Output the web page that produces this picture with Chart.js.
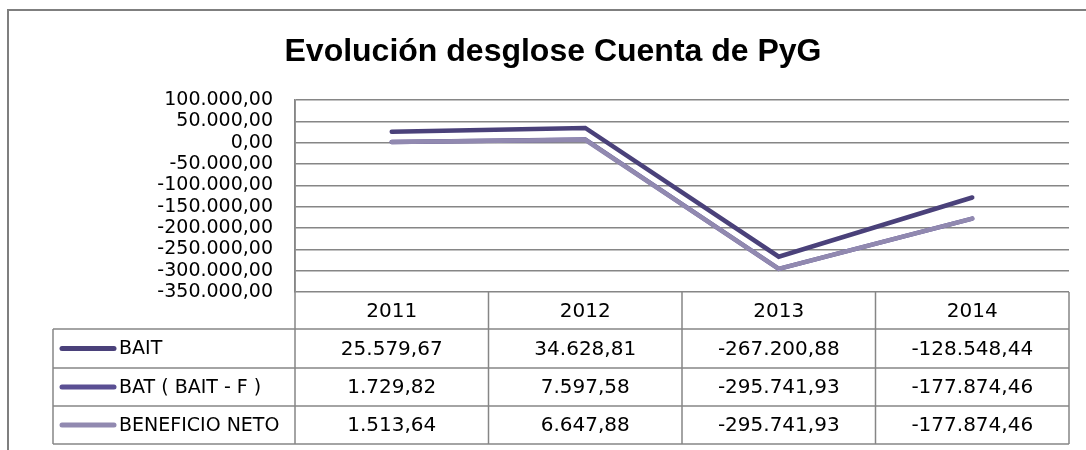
<html>
<head>
	<title>Evolución desglose Cuenta de PyG</title>
	<style>
		body { margin: 0; background: #fff; }
	</style>
</head>
<body>
	<canvas id="chart" width="1086" height="450"></canvas>
	<script src="https://cdn.jsdelivr.net/npm/chart.js"></script>
	<script>
		const years = ['2011', '2012', '2013', '2014'];
		const bait = [25579.67, 34628.81, -267200.88, -128548.44];
		const bat = [1729.82, 7597.58, -295741.93, -177874.46];
		const beneficioNeto = [1513.64, 6647.88, -295741.93, -177874.46];
		const seriesNames = ['BAIT', 'BAT ( BAIT - F )', 'BENEFICIO NETO'];
		const seriesColors = ['#4a417a', '#5a4f93', '#9189b0'];

		// 1.234.567,89 style
		function fmt(v) {
			const neg = v < 0;
			const parts = Math.abs(v).toFixed(2).split('.');
			const int = parts[0].replace(/\B(?=(\d{3})+(?!\d))/g, '.');
			return (neg ? '-' : '') + int + ',' + parts[1];
		}

		const gridColor = '#868686';

		const tablePlugin = {
			id: 'tablePlugin',
			afterDraw(chart) {
				const ctx = chart.ctx;
				const area = chart.chartArea;
				const x = chart.scales.x;
				const colW = (area.right - area.left) / years.length;
				const legendLeft = 53;
				const rows = [area.bottom, area.bottom + 37, area.bottom + 76, area.bottom + 114, area.bottom + 152];
				const allSeries = [bait, bat, beneficioNeto];

				ctx.save();
				// outer frame
				ctx.strokeStyle = '#7f7f7f';
				ctx.lineWidth = 2;
				ctx.beginPath();
				ctx.moveTo(8, 450);
				ctx.lineTo(8, 10);
				ctx.lineTo(1086, 10);
				ctx.stroke();

				// title
				ctx.fillStyle = '#000';
				ctx.font = 'bold 32px "Liberation Sans"';
				ctx.textAlign = 'center';
				ctx.textBaseline = 'alphabetic';
				ctx.fillText('Evolución desglose Cuenta de PyG', 553, 61);

				// table grid
				ctx.strokeStyle = gridColor;
				ctx.lineWidth = 1.5;
				ctx.beginPath();
				for (let r = 1; r < rows.length; r++) {
					ctx.moveTo(legendLeft, rows[r]);
					ctx.lineTo(area.right, rows[r]);
				}
				ctx.moveTo(legendLeft, rows[1]);
				ctx.lineTo(legendLeft, rows[4]);
				ctx.moveTo(area.left, area.top);
				ctx.lineTo(area.left, rows[4]);
				for (let c = 1; c <= years.length; c++) {
					const cx = area.left + c * colW;
					ctx.moveTo(cx, rows[0]);
					ctx.lineTo(cx, rows[4]);
				}
				ctx.stroke();

				// header + values
				ctx.fillStyle = '#000';
				ctx.font = '20px "DejaVu Sans"';
				ctx.textBaseline = 'middle';
				ctx.textAlign = 'center';
				years.forEach((y, i) => {
					const cx = x.getPixelForValue(i);
					ctx.fillText(y, cx, (rows[0] + rows[1]) / 2 + 1);
					allSeries.forEach((s, k) => {
						ctx.fillText(fmt(s[i]), cx, (rows[k + 1] + rows[k + 2]) / 2 + 1);
					});
				});

				// legend keys
				ctx.textAlign = 'left';
				ctx.font = '19px "DejaVu Sans"';
				seriesNames.forEach((name, k) => {
					const cy = (rows[k + 1] + rows[k + 2]) / 2;
					ctx.strokeStyle = seriesColors[k];
					ctx.lineWidth = 5;
					ctx.lineCap = 'round';
					ctx.beginPath();
					ctx.moveTo(62, cy);
					ctx.lineTo(114, cy);
					ctx.stroke();
					ctx.fillText(name, 119, cy + 1);
				});
				ctx.restore();
			}
		};

		const makeSet = (label, data, color, order) => ({
			label: label,
			data: data,
			borderColor: color,
			backgroundColor: color,
			borderWidth: 4.5,
			pointRadius: 0,
			tension: 0,
			borderCapStyle: 'round',
			borderJoinStyle: 'miter',
			order: order
		});

		new Chart(document.getElementById('chart'), {
			type: 'line',
			data: {
				labels: years,
				datasets: [
					makeSet(seriesNames[0], bait, seriesColors[0], 1),
					makeSet(seriesNames[1], bat, seriesColors[1], 2),
					makeSet(seriesNames[2], beneficioNeto, seriesColors[2], 0)
				]
			},
			options: {
				responsive: false,
				animation: false,
				layout: { padding: { left: 0, top: 100, right: 17, bottom: 158 } },
				plugins: {
					legend: { display: false },
					title: { display: false },
					tooltip: { enabled: false }
				},
				scales: {
					x: {
						type: 'category',
						offset: true,
						display: false
					},
					y: {
						min: -350000,
						max: 100000,
						afterFit(scale) { scale.width = 295; },
						border: { display: true, color: gridColor, width: 1.5 },
						grid: { color: gridColor, lineWidth: 1.5, drawTicks: false },
						ticks: {
							stepSize: 50000,
							autoSkip: false,
							padding: 22,
							color: '#000',
							font: { family: 'DejaVu Sans', size: 19, lineHeight: 1 },
							callback: v => fmt(v)
						}
					}
				}
			},
			plugins: [tablePlugin]
		});
	</script>
</body>
</html>
